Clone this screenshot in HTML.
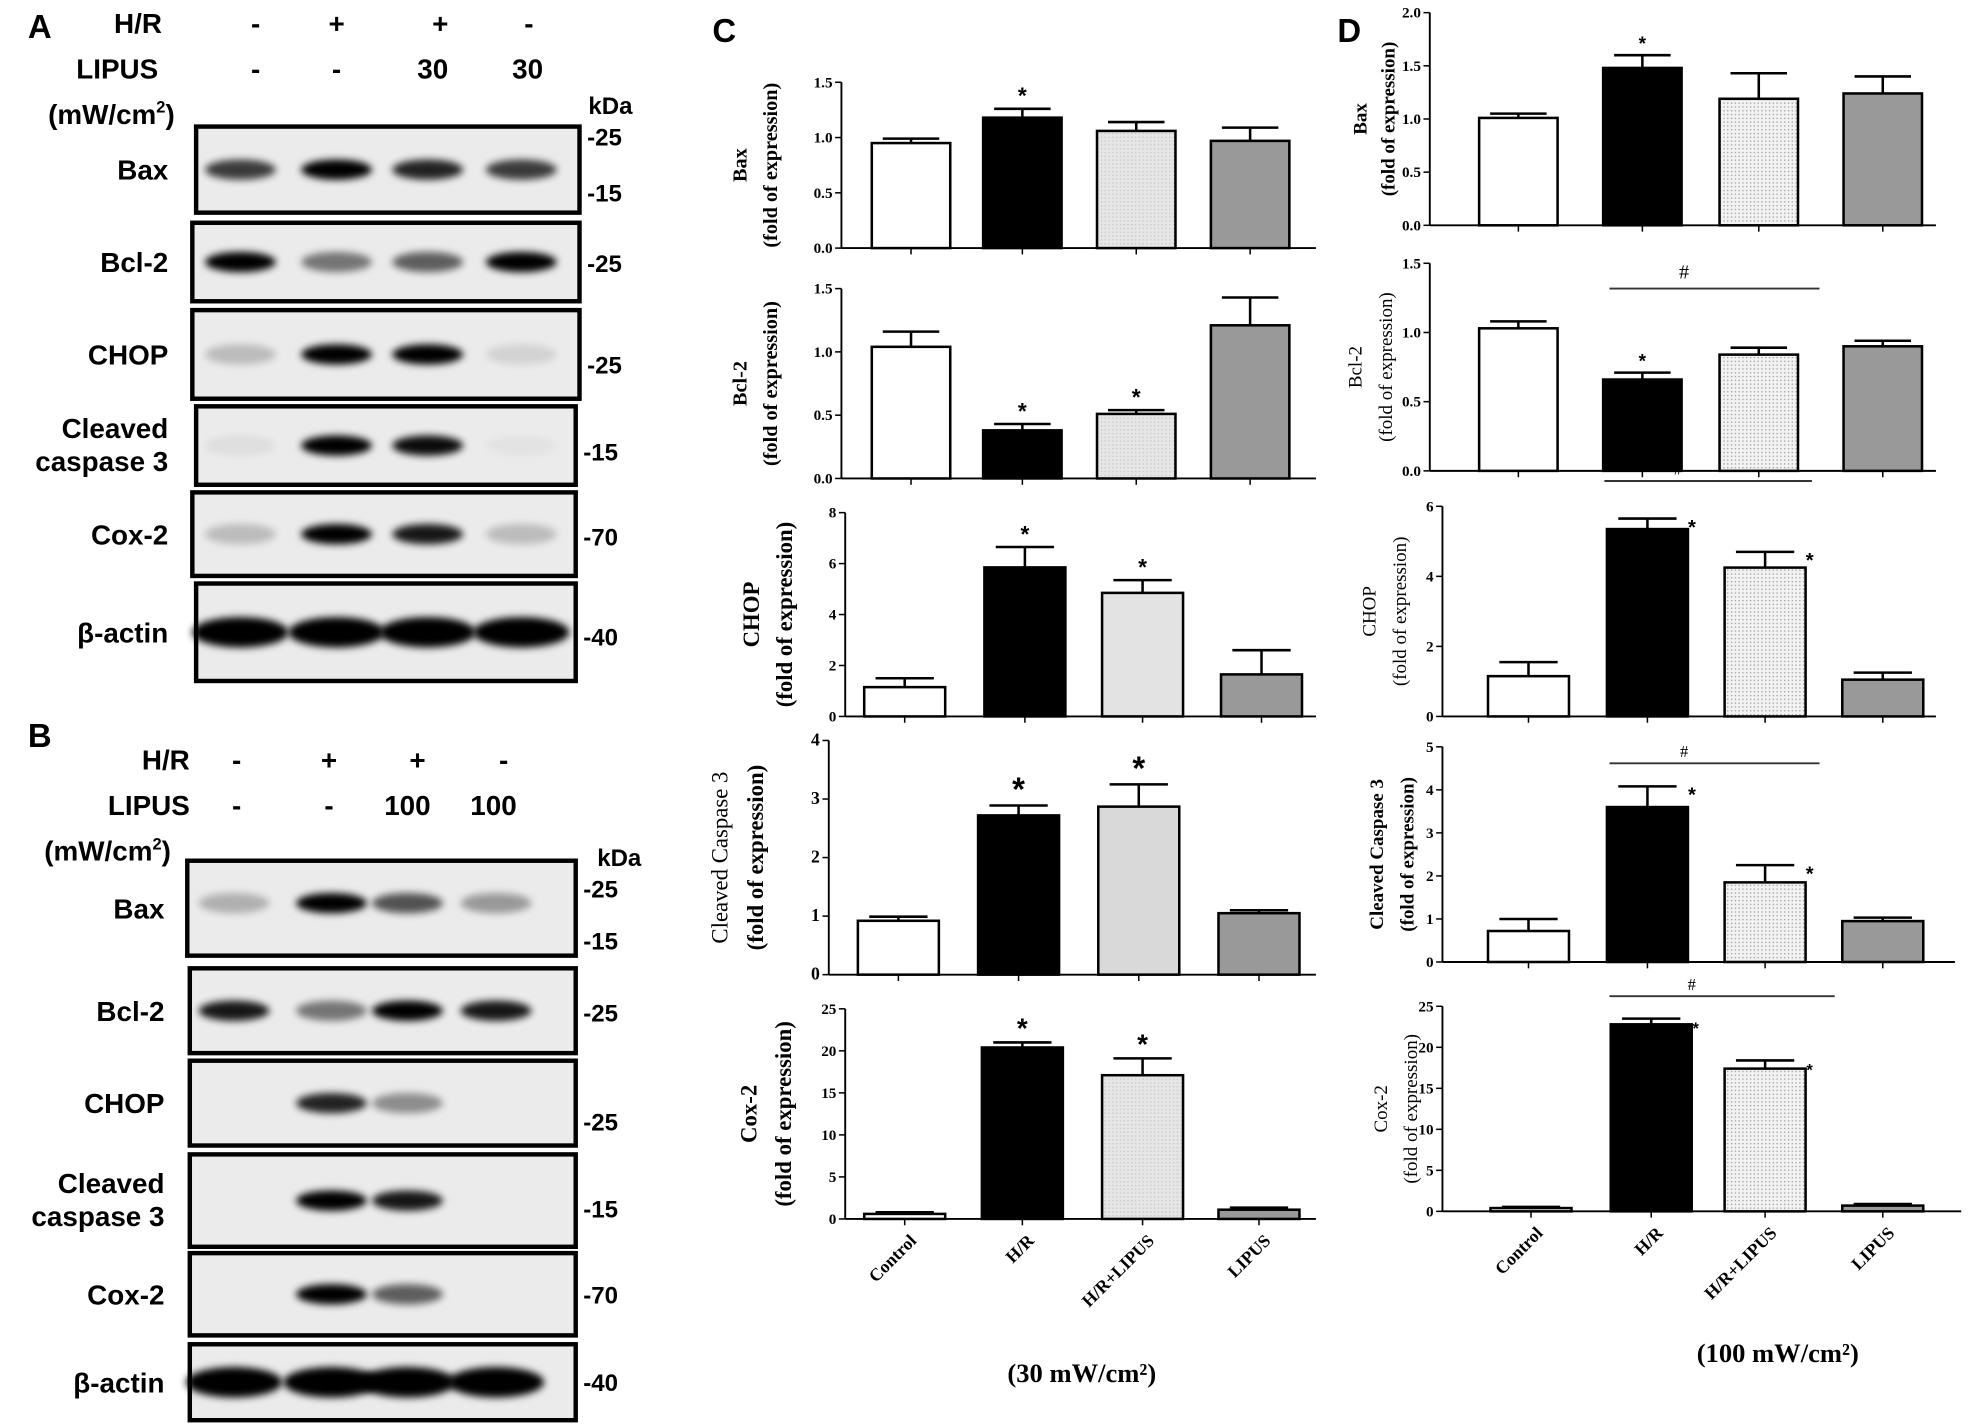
<!DOCTYPE html>
<html><head><meta charset="utf-8">
<style>
html,body{margin:0;padding:0;background:#fff;}
svg{display:block;}
.ss{font-family:"Liberation Sans",sans-serif;font-weight:bold;}
.sf{font-family:"Liberation Serif",serif;}
</style></head>
<body>
<svg id="fig" xmlns="http://www.w3.org/2000/svg" width="1984" height="1424" viewBox="0 0 1568 1125" preserveAspectRatio="none">
<defs>
<filter id="blur" x="-50%" y="-100%" width="200%" height="300%"><feGaussianBlur stdDeviation="3"/></filter>
<pattern id="dots" width="3" height="3" patternUnits="userSpaceOnUse"><rect width="3" height="3" fill="#f2f2f2"/><rect width="1" height="1" fill="#9a9a9a"/></pattern>
<pattern id="dotsC" width="3" height="3" patternUnits="userSpaceOnUse"><rect width="3" height="3" fill="#e6e6e6"/><rect width="1" height="1" fill="#c4c4c4"/></pattern>
</defs>
<g id="root"></g>
</svg>
<script>
// ===== Chart data (top-level arrays) =====
const categories = ["Control","H/R","H/R+LIPUS","LIPUS"];
// Panel C (30 mW/cm2)
const cBaxValues = [0.95,1.18,1.06,0.97];
const cBaxErrors = [0.04,0.08,0.08,0.12];
const cBaxStars = [0,1,0,0];
const cBaxTicks = ["0.0","0.5","1.0","1.5"];
const cBcl2Values = [1.04,0.38,0.51,1.21];
const cBcl2Errors = [0.12,0.05,0.03,0.22];
const cBcl2Stars = [0,1,1,0];
const cBcl2Ticks = ["0.0","0.5","1.0","1.5"];
const cChopValues = [1.15,5.85,4.85,1.65];
const cChopErrors = [0.35,0.8,0.5,0.95];
const cChopStars = [0,1,1,0];
const cChopTicks = ["0","2","4","6","8"];
const cCasValues = [0.92,2.72,2.87,1.05];
const cCasErrors = [0.07,0.17,0.38,0.05];
const cCasStars = [0,1,1,0];
const cCasTicks = ["0","1","2","3","4"];
const cCoxValues = [0.6,20.4,17.1,1.1];
const cCoxErrors = [0.2,0.6,2.0,0.25];
const cCoxStars = [0,1,1,0];
const cCoxTicks = ["0","5","10","15","20","25"];
// Panel D (100 mW/cm2)
const dBaxValues = [1.01,1.48,1.19,1.24];
const dBaxErrors = [0.04,0.12,0.24,0.16];
const dBaxStars = [0,1,0,0];
const dBaxTicks = ["0.0","0.5","1.0","1.5","2.0"];
const dBcl2Values = [1.03,0.66,0.84,0.90];
const dBcl2Errors = [0.05,0.05,0.05,0.04];
const dBcl2Stars = [0,1,0,0];
const dBcl2Ticks = ["0.0","0.5","1.0","1.5"];
const dChopValues = [1.15,5.35,4.25,1.05];
const dChopErrors = [0.4,0.3,0.45,0.2];
const dChopStars = [0,1,1,0];
const dChopTicks = ["0","2","4","6"];
const dCasValues = [0.72,3.6,1.85,0.95];
const dCasErrors = [0.28,0.48,0.4,0.08];
const dCasStars = [0,1,1,0];
const dCasTicks = ["0","1","2","3","4","5"];
const dCoxValues = [0.4,22.8,17.4,0.7];
const dCoxErrors = [0.15,0.7,1.0,0.2];
const dCoxStars = [0,1,1,0];
const dCoxTicks = ["0","5","10","15","20","25"];
// Blot band intensities (lanes 1-4)
const blotA = {"Bax":[0.75,1,0.85,0.75],"Bcl-2":[1,0.5,0.6,1],"CHOP":[0.2,1,1,0.1],"Cleaved caspase 3":[0.05,1,0.95,0.03],"Cox-2":[0.2,1,0.9,0.2],"β-actin":[1,1,1,1]};
const blotB = {"Bax":[0.25,1,0.65,0.35],"Bcl-2":[0.9,0.5,1,0.9],"CHOP":[0,0.85,0.4,0],"Cleaved caspase 3":[0,1,0.9,0],"Cox-2":[0,1,0.6,0],"β-actin":[1,1,1,1]};

const NS="http://www.w3.org/2000/svg";
const root=document.getElementById('root');
function mk(tag,attrs,parent,text){const e=document.createElementNS(NS,tag);for(const k in attrs)e.setAttribute(k,attrs[k]);if(text!==undefined)e.textContent=text;(parent||root).appendChild(e);return e;}

function txt(x,y,s,cls,size,anchor,name,parent){
  const t=mk('text',{x:x,y:y,'class':cls,'font-size':size,'text-anchor':anchor||'start'},parent,s);
  
  
  return t;
}

// ===== Panel letters =====
txt(22,30,"A","ss",26,"start","panel-a-label");
txt(22,590,"B","ss",26,"start","panel-b-label");
txt(563,33,"C","ss",26,"start","panel-c-label");
txt(1057,33,"D","ss",26,"start","panel-d-label");

// ===== Blots =====
function blotPanel(cfg,data,name){
  const g=mk('g',{});
  
  
  txt(cfg.hrX,cfg.hrY,"H/R","ss",22,"end","hr-label",g);
  txt(cfg.lipX,cfg.hrY+36,"LIPUS","ss",22,"end","lipus-label",g);
  const u=txt(cfg.unitX,cfg.hrY+72,"(mW/cm","ss",22,"start","units-label",g);
  mk('tspan',{'font-size':13,dy:-9},u,"2");
  mk('tspan',{dy:9},u,")");
  cfg.signs.forEach((s,i)=>txt(cfg.signX[i],cfg.hrY,s,"ss",22,"middle","hr-sign",g));
  cfg.lip.forEach((s,i)=>txt(cfg.lipXs[i],cfg.hrY+36,s,"ss",22,"middle","lipus-dose",g));
  txt(cfg.kdaX,cfg.kdaY,"kDa","ss",19,"start","kda-label",g);
  cfg.rows.forEach((r,ri)=>{
    const names=Object.keys(data);
    const nm=names[ri];
    mk('rect',{x:r[0],y:r[1],width:r[2]-r[0],height:r[3]-r[1],fill:'#ebebeb',stroke:'#000','stroke-width':3.5},g);
    const cy=(r[1]+r[3])/2+(r[4]||0);
    const bh=(nm==="β-actin")?12:8;
    data[nm].forEach((v,li)=>{
      if(v<=0)return;
      const e=mk('ellipse',{cx:cfg.lanes[li],cy:cy,rx:nm==="β-actin"?38:28,ry:bh,fill:'#000',opacity:Math.min(1,v),filter:'url(#blur)'},g);
      
    });
    const ly=(r[1]+r[3])/2;
    if(nm==="Cleaved caspase 3"){
      txt(cfg.labX,ly-6,"Cleaved","ss",22,"end","row-label",g);
      txt(cfg.labX,ly+20,"caspase 3","ss",22,"end","row-label",g);
    } else txt(cfg.labX,ly+8,nm,"ss",22,"end","row-label",g);
    r[5].forEach(m=>txt(r[2]+6,m[1]+7,m[0],"ss",19,"start","mw-marker",g));
  });
}
blotPanel({hrX:128,hrY:26,lipX:125,unitX:38,signs:["-","+","+","-"],signX:[202,266,348,418],lip:["-","-","30","30"],lipXs:[202,266,342,417],kdaX:465,kdaY:90,labX:133,lanes:[190,266,338,412],
 rows:[[155,100,458,168,0,[["-25",108],["-15",152]]],[152,176,458,238,0,[["-25",208]]],[152,245,458,315,0,[["-25",288]]],[155,321,455,383,0,[["-15",357]]],[152,389,455,455,0,[["-70",424]]],[155,461,455,538,0,[["-40",503]]]]},blotA,"blot-panel-a");
blotPanel({hrX:150,hrY:608,lipX:150,unitX:35,signs:["-","+","+","-"],signX:[187,260,330,398],lip:["-","-","100","100"],lipXs:[187,260,322,390],kdaX:472,kdaY:684,labX:130,lanes:[185,262,322,392],
 rows:[[148,680,455,755,-4,[["-25",702],["-15",743]]],[150,765,455,832,0,[["-25",800]]],[150,838,455,905,0,[["-25",886]]],[150,912,455,985,0,[["-15",955]]],[150,990,455,1055,0,[["-70",1023]]],[150,1062,455,1122,0,[["-40",1092]]]]},blotB,"blot-panel-b");

// ===== Bar charts =====
const fillsC=['#ffffff','#000000','url(#dotsC)','#999999'];
const fillsD=['#ffffff','#000000','url(#dots)','#999999'];
function barChart(c,values,errors,stars,ticks,name){
  const g=mk('g',{});
  
  
  const max=parseFloat(ticks[ticks.length-1]);
  const y=v=>c.bottom-(v/max)*(c.bottom-c.top);
  mk('line',{x1:c.ax,y1:c.top,x2:c.ax,y2:c.bottom,stroke:'#000','stroke-width':1.5},g);
  mk('line',{x1:c.ax,y1:c.bottom,x2:c.right,y2:c.bottom,stroke:'#000','stroke-width':1.5},g);
  ticks.forEach(t=>{const v=parseFloat(t);const yy=y(v);
    mk('line',{x1:c.ax-5,y1:yy,x2:c.ax,y2:yy,stroke:'#000','stroke-width':1.2},g);
    txt(c.ax-7,yy+4,t,"sf",c.tfs||12,"end","y-tick-label",g).setAttribute('font-weight','bold');
  });
  values.forEach((v,i)=>{
    const cx=c.centers[i],w=c.bw;
    const r=mk('rect',{x:cx-w/2,y:y(v),width:w,height:c.bottom-y(v),fill:c.fills[i],stroke:'#000','stroke-width':2},g);
    
    
    const ye=y(v+errors[i]);
    mk('line',{x1:cx,y1:y(v),x2:cx,y2:ye,stroke:'#000','stroke-width':2},g);
    mk('line',{x1:cx-w*0.36,y1:ye,x2:cx+w*0.36,y2:ye,stroke:'#000','stroke-width':2},g);
    mk('line',{x1:cx,y1:c.bottom,x2:cx,y2:c.bottom+5,stroke:'#000','stroke-width':1.2},g);
    if(stars[i]){
      if(c.starRight) txt(cx+w*0.55,ye+12,"*","ss",c.sfs||18,"middle","significance-star",g);
      else txt(cx,ye-4,"*","ss",c.sfs||18,"middle","significance-star",g);
    }
  });
  if(c.hash){
    mk('line',{x1:c.hash[0],y1:c.hash[2],x2:c.hash[1],y2:c.hash[2],stroke:'#333','stroke-width':1.5},g);
    txt((c.hash[0]+c.hash[1])/2-24,c.hash[2]-c.hash[3],"#","sf",c.hash[4],"middle","hash-mark",g);
  }
  const lx=c.lx, ly=(c.top+c.bottom)/2;
  const t1=mk('text',{x:0,y:0,'class':'sf','font-size':c.lfs,'text-anchor':'middle','font-weight':c.l1bold?'bold':'normal',transform:`translate(${lx},${ly}) rotate(-90)`},g,c.label);
  
  const t2=mk('text',{x:0,y:0,'class':'sf','font-size':c.lfs,'text-anchor':'middle','font-weight':c.l2bold?'bold':'normal',transform:`translate(${lx+c.lgap},${ly}) rotate(-90)`},g,"(fold of expression)");
  
  if(c.xlabels){
    categories.forEach((s,i)=>{
      const t=mk('text',{x:0,y:0,'class':'sf','font-size':14,'font-weight':'bold','text-anchor':'end',transform:`translate(${c.centers[i]+10},${c.bottom+18}) rotate(-45)`},g,s);
      
    });
  }
}
const cC=[720,808,898,988];
barChart({ax:665,right:1040,top:65,bottom:196,centers:cC,bw:62,fills:fillsC,lx:590,lgap:24,lfs:16,label:"Bax",l1bold:true,l2bold:true},cBaxValues,cBaxErrors,cBaxStars,cBaxTicks,"chart-c-bax");
barChart({ax:665,right:1040,top:228,bottom:378,centers:cC,bw:62,fills:fillsC,lx:590,lgap:24,lfs:16,label:"Bcl-2",l1bold:true,l2bold:true},cBcl2Values,cBcl2Errors,cBcl2Stars,cBcl2Ticks,"chart-c-bcl2");
barChart({ax:668,right:1040,top:405,bottom:566,centers:[715,810,903,997],bw:64,fills:['#fff','#000','#e3e3e3','#999'],lx:600,lgap:26,lfs:18,label:"CHOP",l1bold:true,l2bold:true},cChopValues,cChopErrors,cChopStars,cChopTicks,"chart-c-chop");
barChart({ax:655,right:1040,top:585,bottom:770,centers:[710,805,900,995],bw:64,fills:['#fff','#000','#d9d9d9','#999'],lx:575,lgap:28,lfs:18,label:"Cleaved Caspase 3",l1bold:false,l2bold:true,sfs:26,tfs:14},cCasValues,cCasErrors,cCasStars,cCasTicks,"chart-c-cleaved-caspase3");
barChart({ax:668,right:1040,top:797,bottom:963,centers:[715,808,903,995],bw:64,fills:fillsC,lx:598,lgap:27,lfs:18,label:"Cox-2",l1bold:true,l2bold:true,xlabels:true,sfs:22},cCoxValues,cCoxErrors,cCoxStars,cCoxTicks,"chart-c-cox2");
const dC=[1200,1298,1390,1488];
barChart({ax:1130,right:1530,top:10,bottom:178,centers:dC,bw:62,fills:fillsD,lx:1080,lgap:22,lfs:15,label:"Bax",l1bold:true,l2bold:true,sfs:15},dBaxValues,dBaxErrors,dBaxStars,dBaxTicks,"chart-d-bax");
barChart({ax:1130,right:1530,top:208,bottom:372,centers:dC,bw:62,fills:fillsD,lx:1076,lgap:24,lfs:15,label:"Bcl-2",sfs:15,hash:[1272,1438,228,8,16]},dBcl2Values,dBcl2Errors,dBcl2Stars,dBcl2Ticks,"chart-d-bcl2");
barChart({ax:1140,right:1530,top:400,bottom:566,centers:[1208,1302,1395,1488],bw:64,fills:fillsD,lx:1087,lgap:24,lfs:15,label:"CHOP",starRight:true,sfs:16,hash:[1268,1432,380,5,13]},dChopValues,dChopErrors,dChopStars,dChopTicks,"chart-d-chop");
barChart({ax:1140,right:1545,top:590,bottom:760,centers:[1208,1302,1395,1488],bw:64,fills:fillsD,lx:1093,lgap:24,lfs:15,label:"Cleaved Caspase 3",l1bold:true,l2bold:true,starRight:true,sfs:16,hash:[1272,1438,603,5,13]},dCasValues,dCasErrors,dCasStars,dCasTicks,"chart-d-cleaved-caspase3");
barChart({ax:1140,right:1550,top:795,bottom:957,centers:[1210,1305,1395,1488],bw:64,fills:fillsD,lx:1096,lgap:24,lfs:15,label:"Cox-2",starRight:true,sfs:13,xlabels:true,hash:[1272,1450,787,5,13]},dCoxValues,dCoxErrors,dCoxStars,dCoxTicks,"chart-d-cox2");

txt(855,1092,"(30 mW/cm²)","sf",21,"middle","panel-c-caption").setAttribute('font-weight','bold');
txt(1405,1076,"(100 mW/cm²)","sf",21,"middle","panel-d-caption").setAttribute('font-weight','bold');
</script>
</body></html>
